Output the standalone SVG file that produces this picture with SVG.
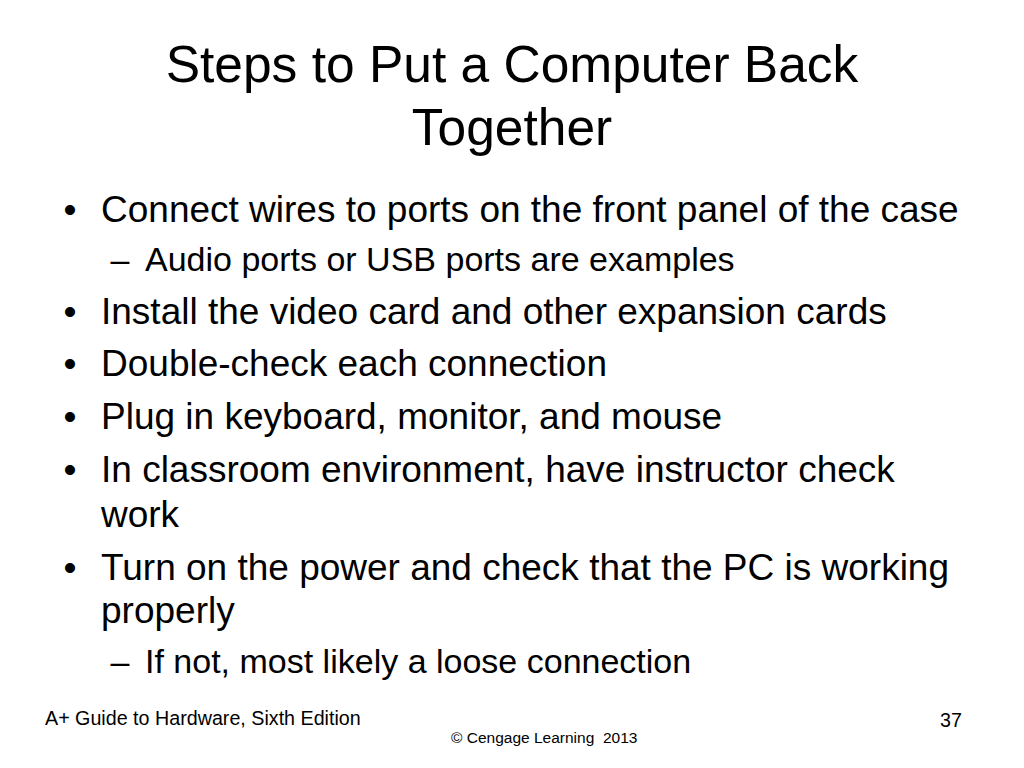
<svg xmlns="http://www.w3.org/2000/svg" width="1024" height="768" viewBox="0 0 1024 768">
<style>
text{font-family:"Liberation Sans",Arial,Helvetica,sans-serif;fill:#000}
.t{font-size:51.5px;text-anchor:middle}
.b{font-size:37px}
.s{font-size:34px}
.f{font-size:19.7px}
.c{font-size:15.5px}
.m{text-anchor:middle}
</style>
<rect width="1024" height="768" fill="#fff"/>
<g id="title">
<text class="t" x="512" y="82">Steps to Put a Computer Back</text>
<text class="t" x="512" y="145">Together</text>
</g>
<g id="bullets">
<text class="b m" x="70" y="222">•</text>
<text class="b" x="101" y="222">Connect wires to ports on the front panel of the case</text>
<text class="s m" x="120" y="271">–</text>
<text class="s" x="145" y="271">Audio ports or USB ports are examples</text>
<text class="b m" x="70" y="324">•</text>
<text class="b" x="101" y="324">Install the video card and other expansion cards</text>
<text class="b m" x="70" y="376">•</text>
<text class="b" x="101" y="376">Double-check each connection</text>
<text class="b m" x="70" y="429">•</text>
<text class="b" x="101" y="429">Plug in keyboard, monitor, and mouse</text>
<text class="b m" x="70" y="482">•</text>
<text class="b" x="101" y="482">In classroom environment, have instructor check</text>
<text class="b" x="101" y="527">work</text>
<text class="b m" x="70" y="580">•</text>
<text class="b" x="101" y="580">Turn on the power and check that the PC is working</text>
<text class="b" x="101" y="623">properly</text>
<text class="s m" x="120" y="673">–</text>
<text class="s" x="145" y="673">If not, most likely a loose connection</text>
</g>
<g id="footer">
<text class="f" x="45" y="725">A+ Guide to Hardware, Sixth Edition</text>
<text class="f" x="962" y="727" text-anchor="end">37</text>
<text class="c" x="451" y="743">© Cengage Learning&#160; 2013</text>
</g>
</svg>
